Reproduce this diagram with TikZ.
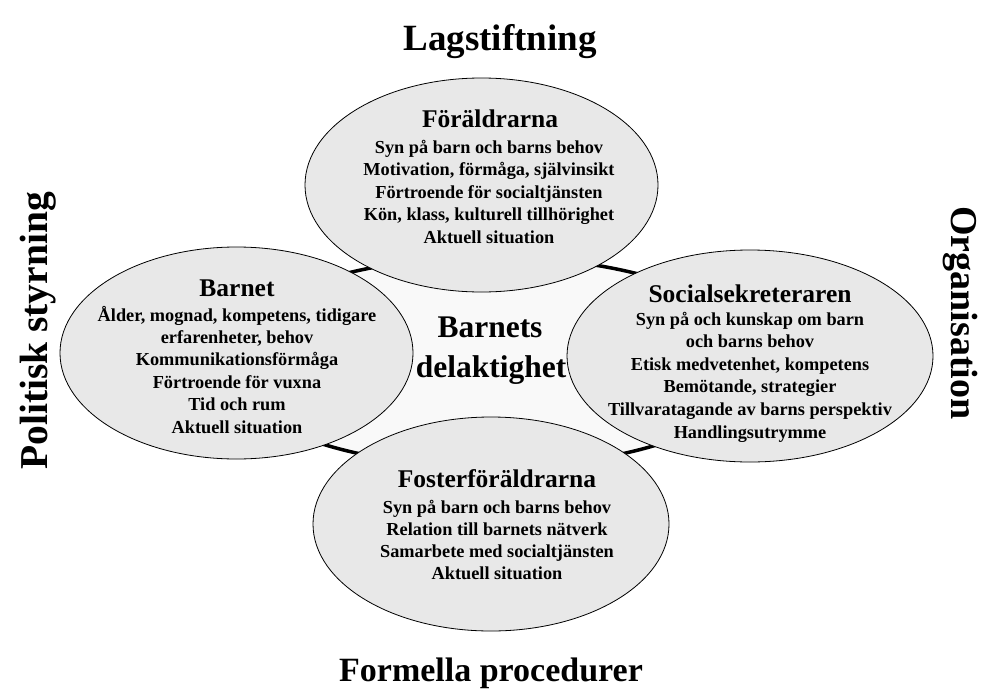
\documentclass[tikz,border=0pt]{standalone}
\usepackage{fontspec}
\setmainfont{Liberation Serif}
\usetikzlibrary{shapes.geometric}
\newcommand\mylines[2]{\vtop{\baselineskip=#1\lineskiplimit=-20pt\halign{\hfil##\hfil\cr #2\crcr}}}
\begin{document}
\begin{tikzpicture}[x=1pt,y=-1pt,
  hub/.style={ellipse, draw, line width=3.5pt, fill=gray!5, minimum width=540pt, minimum height=210pt, inner sep=0pt},
  ell/.style={ellipse, draw, line width=0.8pt, fill=gray!18, inner sep=0pt},
  ttl/.style={anchor=base, inner sep=0pt, font=\fontsize{25.5}{30}\selectfont\bfseries},
  bdy/.style={anchor=base, inner sep=0pt, font=\fontsize{18.3}{22.5}\selectfont\bfseries},
  outer/.style={anchor=base, inner sep=0pt, font=\fontsize{37}{40}\selectfont\bfseries},
  centre/.style={anchor=base, inner sep=0pt, font=\fontsize{31.5}{40}\selectfont\bfseries}]
\useasboundingbox (0,0) rectangle (981,693);
\fill[white] (0,0) rectangle (981,693);
\node[hub] (hub) at (491,362) {};
\node[ell, minimum width=353pt, minimum height=214pt] (topE) at (481.5,185) {};
\node[ell, minimum width=353pt, minimum height=212pt] (leftE) at (236.5,353) {};
\node[ell, minimum width=366pt, minimum height=212pt] (rightE) at (750,356) {};
\node[ell, minimum width=356pt, minimum height=214pt] (botE) at (491,524) {};
% centre
\node[centre] (c1) at (490,337) {Barnets};
\node[centre] (c2) at (491,377) {delaktighet};
% top
\node[ttl] (topT) at (490,127) {Föräldrarna};
\node[bdy] (topB) at (489,153) {\mylines{22.5pt}{Syn på barn och barns behov\cr Motivation, förmåga, självinsikt\cr Förtroende för socialtjänsten\cr Kön, klass, kulturell tillhörighet\cr Aktuell situation}};
% left
\node[ttl] (leftT) at (237,296) {Barnet};
\node[bdy] (leftB) at (237,321) {\mylines{22.4pt}{Ålder, mognad, kompetens, tidigare\cr erfarenheter, behov\cr Kommunikationsförmåga\cr Förtroende för vuxna\cr Tid och rum\cr Aktuell situation}};
% right
\node[ttl] (rightT) at (750,302) {Socialsekreteraren};
\node[bdy] (rightB) at (750,325) {\mylines{22.6pt}{Syn på och kunskap om barn\cr och barns behov\cr Etisk medvetenhet, kompetens\cr Bemötande, strategier\cr Tillvaratagande av barns perspektiv\cr Handlingsutrymme}};
% bottom
\node[ttl] (botT) at (497,487) {Fosterföräldrarna};
\node[bdy] (botB) at (497,513) {\mylines{22.2pt}{Syn på barn och barns behov\cr Relation till barnets nätverk\cr Samarbete med socialtjänsten\cr Aktuell situation}};
% outer labels
\node[outer] (lag) at (500,50) {Lagstiftning};
\node[outer, font=\fontsize{34}{40}\selectfont\bfseries] (form) at (491,681) {Formella procedurer};
\node[outer, rotate=90, font=\fontsize{39.5}{40}\selectfont\bfseries] (pol) at (47,331) {Politisk styrning};
\node[outer, rotate=-90, font=\fontsize{38}{40}\selectfont\bfseries] (org) at (951,313) {Organisation};
\end{tikzpicture}
\end{document}
